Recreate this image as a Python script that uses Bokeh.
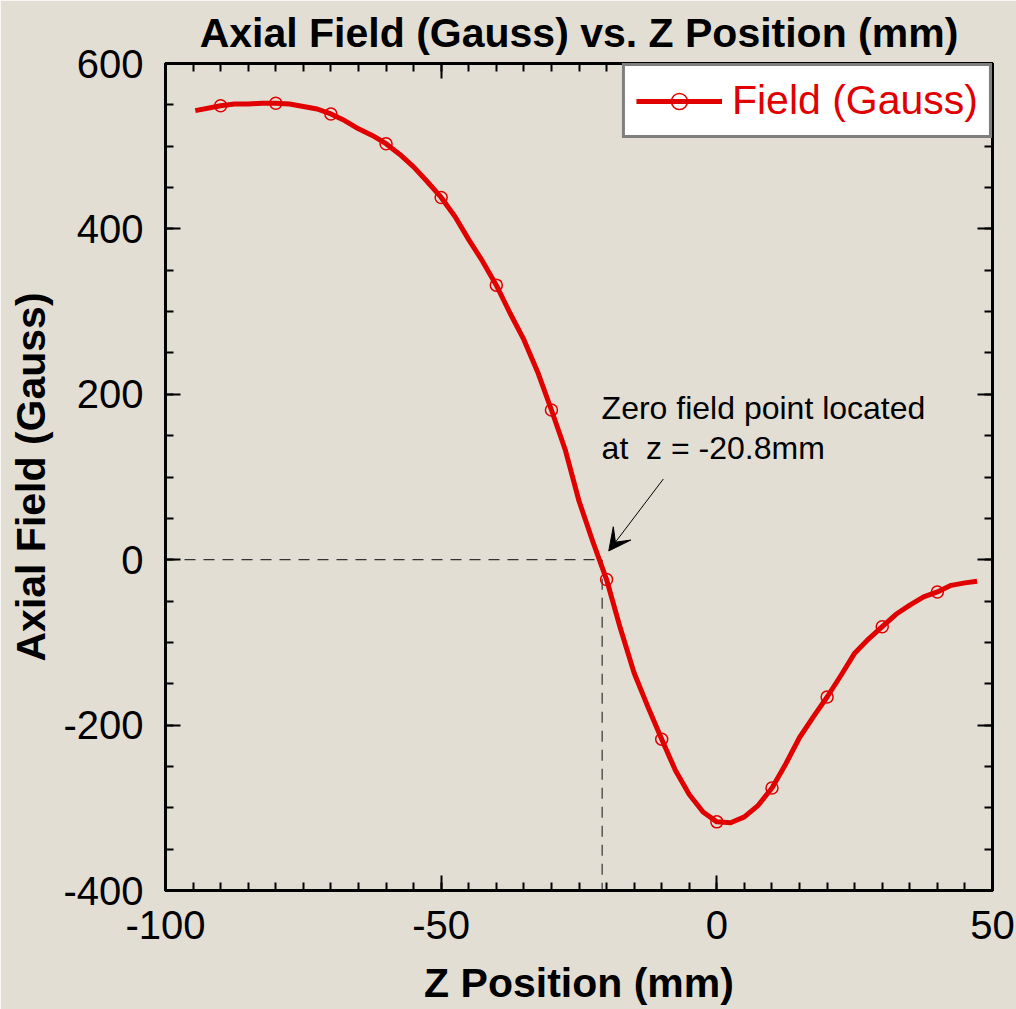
from bokeh.plotting import figure
from bokeh.models import (Range1d, LinearAxis, FixedTicker, Label, Arrow, VeeHead,
                          Legend, LegendItem, CustomJSTickFormatter)
from bokeh.embed import file_html
from bokeh.resources import INLINE

# Axial field along z (Gauss): smooth trace and sampled points
z_trace = [-94.6, -90, -87.5, -85, -82.5, -80, -77.5, -75, -72.5, -70, -67.5, -65,
           -62.5, -60, -57.5, -55, -52.5, -50, -47.5, -45, -42.5, -40, -37.5, -35,
           -32.5, -30, -27.5, -25, -22.5, -20, -17.5, -15, -12.5, -10, -7.5, -5,
           -2.5, 0, 2.5, 5, 7.5, 10, 12.5, 15, 17.5, 20, 22.5, 25, 27.5, 30, 32.5,
           35, 37.5, 40, 42.5, 45, 47.2]
b_trace = [543, 549, 551, 551, 552, 552, 551, 548, 545, 539, 531, 521,
           513, 503, 490, 475, 457, 438, 415, 387, 361, 332, 298, 266,
           227, 181, 133, 71, 22, -24, -83, -137, -178, -217, -255, -284,
           -305, -317, -318, -311, -297, -276, -247, -215, -190, -166, -140, -113, -96, -81, -66,
           -55, -45, -39, -31, -28, -26]

z_points = [-90, -80, -70, -60, -50, -40, -30, -20, -10, 0, 10, 20, 30, 40]
b_points = [549, 552, 539, 503, 438, 332, 181, -24, -217, -317, -276, -166, -81, -39]

z_zero = -20.8
x_ticks = [-100, -50, 0, 50]
y_ticks = [-400, -200, 0, 200, 400, 600]

BG = "#E3DED3"
RED = "#E10000"
FONT = "Liberation Sans"

p = figure(width=1016, height=1009, output_backend="svg", toolbar_location=None,
           x_range=Range1d(-100, 50), y_range=Range1d(-400, 600),
           x_axis_location=None, y_axis_location=None,
           title="Axial Field (Gauss) vs. Z Position (mm)")
p.min_border_left = 165
p.min_border_right = 24
p.min_border_top = 62
p.min_border_bottom = 119
p.background_fill_color = BG
p.border_fill_color = BG
p.outline_line_color = "black"
p.outline_line_width = 3
p.xgrid.visible = False
p.ygrid.visible = False

p.title.text_font = FONT
p.title.text_font_size = "41px"
p.title.text_font_style = "bold"
p.title.text_color = "black"
p.title.align = "center"
p.title.standoff = 15

blank = CustomJSTickFormatter(code="return ''")
plain = CustomJSTickFormatter(code="return tick.toFixed(0)")


def style_axis(ax, ticks, minor, labels=True):
    ax.ticker = FixedTicker(ticks=ticks, minor_ticks=minor)
    ax.axis_line_width = 3
    ax.axis_line_color = "black"
    ax.major_tick_in = 15
    ax.major_tick_out = 0
    ax.minor_tick_in = 8
    ax.minor_tick_out = 0
    ax.major_tick_line_width = 2
    ax.minor_tick_line_width = 2
    ax.major_tick_line_color = "black"
    ax.minor_tick_line_color = "black"
    ax.major_label_text_font = FONT
    ax.major_label_text_color = "black"
    ax.axis_label_text_font = FONT
    ax.axis_label_text_font_size = "41px"
    ax.axis_label_text_font_style = "bold"
    ax.axis_label_text_color = "black"
    if labels:
        ax.formatter = plain
        ax.major_label_text_font_size = "40px"
        ax.major_label_standoff = 22
    else:
        ax.formatter = blank
        ax.major_label_text_font_size = "1px"
        ax.major_label_standoff = 0


x_minor = list(range(-100, 51, 5))
y_minor = list(range(-400, 601, 50))

bottom = LinearAxis(axis_label="Z Position (mm)")
style_axis(bottom, x_ticks, x_minor)
bottom.major_label_standoff = 20
bottom.axis_label_standoff = 18
top = LinearAxis()
style_axis(top, x_ticks, x_minor, labels=False)
left = LinearAxis(axis_label="Axial Field (Gauss)")
style_axis(left, y_ticks, y_minor)
left.axis_label_standoff = 6
right = LinearAxis()
style_axis(right, y_ticks, y_minor, labels=False)
p.add_layout(bottom, "below")
p.add_layout(top, "above")
p.add_layout(left, "left")
p.add_layout(right, "right")

# zero-crossing guide lines
p.line([-100, z_zero], [0, 0], line_color="#333333", line_width=1.2, line_dash="11 8")
p.line([z_zero, z_zero], [0, -400], line_color="#333333", line_width=1.2, line_dash="11 8")

trace = p.line(z_trace, b_trace, line_color=RED, line_width=5, line_join="round")
pts = p.scatter(z_points, b_points, marker="circle", size=12, fill_color=None,
                line_color=RED, line_width=1.5)

legend = Legend(items=[LegendItem(label="Field (Gauss)", renderers=[trace, pts])],
                location="top_right", margin=0, padding=11, spacing=0,
                glyph_width=86, glyph_height=40, label_standoff=10,
                label_text_font=FONT, label_text_font_size="41px",
                label_text_color=RED, border_line_color="black",
                border_line_width=3, background_fill_color="white",
                background_fill_alpha=1.0)
p.add_layout(legend)

# annotation for the zero crossing
p.add_layout(Arrow(x_start=-9.7, y_start=97.6, x_end=-19.6, y_end=10.6,
                   line_color="black", line_width=1,
                   end=VeeHead(size=22, fill_color="black", line_color="black")))
for txt, yy in [("Zero field point located", 183), ("at\u00a0 z = -20.8mm", 135)]:
    p.add_layout(Label(x=-20.9, y=yy, text=txt, text_font=FONT,
                       text_font_size="32px", text_color="black",
                       text_align="left", text_baseline="alphabetic"))

open("out.html", "w").write(file_html(p, INLINE))
